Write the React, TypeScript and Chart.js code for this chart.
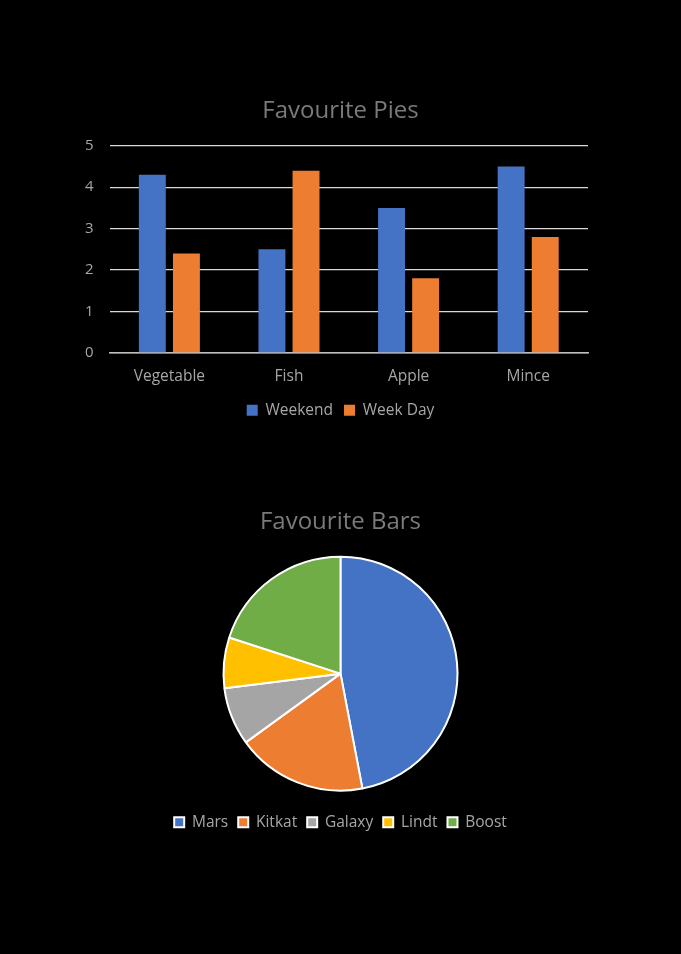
import { Chart, registerables } from "chart.js";
import { useEffect, useRef } from "react";

Chart.register(...registerables);

const pieCategories = ["Vegetable", "Fish", "Apple", "Mince"];
const weekend = [4.3, 2.5, 3.5, 4.5];
const weekDay = [2.4, 4.4, 1.8, 2.8];

const barLabels = ["Mars", "Kitkat", "Galaxy", "Lindt", "Boost"];
const barShares = [47, 18, 8, 7, 20];
const barColours = ["#4472C4", "#ED7D31", "#A5A5A5", "#FFC000", "#70AD47"];

const FONT = "'Open Sans', 'Noto Sans', sans-serif";
const TITLE_COLOUR = "#7a7a7a";
const TEXT_COLOUR = "#a6a6a6";

function PiesChart() {
	const ref = useRef<HTMLCanvasElement>(null);
	useEffect(() => {
		if (ref.current == null) {
			return;
		}
		const chart = new Chart(ref.current, {
			type: "bar",
			data: {
				labels: pieCategories,
				datasets: [
					{ label: "Weekend", data: weekend, backgroundColor: "#4472C4", borderWidth: 0 },
					{ label: "Week Day", data: weekDay, backgroundColor: "#ED7D31", borderWidth: 0 },
				],
			},
			options: {
				animation: false,
				responsive: false,
				categoryPercentage: 0.57,
				barPercentage: 0.79,
				// equal padding both sides keeps title and legend centred on the page
				layout: { padding: { left: 69, right: 69, top: 97, bottom: 12 } },
				plugins: {
					title: {
						display: true,
						text: "Favourite Pies",
						color: TITLE_COLOUR,
						font: { family: FONT, size: 24, weight: "normal" },
						padding: { top: 0, bottom: 20 },
					},
					legend: {
						position: "bottom",
						labels: {
							color: TEXT_COLOUR,
							font: { family: FONT, size: 15.5 },
							boxWidth: 11,
							boxHeight: 11,
							padding: 11,
						},
					},
					tooltip: { enabled: false },
				},
				scales: {
					x: {
						grid: { display: false },
						border: { color: "#bfbfbf", width: 1.5 },
						ticks: { color: TEXT_COLOUR, font: { family: FONT, size: 15.5 }, padding: 6 },
					},
					y: {
						min: 0,
						max: 5,
						grid: { color: "#d9d9d9", lineWidth: 1.2, drawTicks: false },
						border: { display: false },
						ticks: { stepSize: 1, color: TEXT_COLOUR, font: { family: FONT, size: 15 }, padding: 16 },
					},
					// empty spacer on the right so the plot sits where it does in the picture
					spacer: {
						type: "linear",
						position: "right",
						display: true,
						grid: { display: false },
						border: { display: false },
						ticks: { display: false },
						afterFit: (scale) => {
							scale.width = 24;
						},
					},
				},
			},
		});
		return () => {
			chart.destroy();
		};
	}, []);
	return <canvas ref={ref} width={681} height={440} style={{ position: "absolute", left: 0, top: 0 }} />;
}

function BarsChart() {
	const ref = useRef<HTMLCanvasElement>(null);
	useEffect(() => {
		if (ref.current == null) {
			return;
		}
		const chart = new Chart(ref.current, {
			type: "pie",
			data: {
				labels: barLabels,
				datasets: [
					{
						data: barShares,
						backgroundColor: barColours,
						borderColor: "#ffffff",
						borderWidth: 2,
					},
				],
			},
			options: {
				animation: false,
				responsive: false,
				radius: 117,
				layout: { padding: { top: 28, bottom: 20 } },
				plugins: {
					title: {
						display: true,
						text: "Favourite Bars",
						color: TITLE_COLOUR,
						font: { family: FONT, size: 24, weight: "normal" },
						padding: { top: 0, bottom: 6 },
					},
					legend: {
						position: "bottom",
						labels: {
							color: TEXT_COLOUR,
							font: { family: FONT, size: 15.5 },
							boxWidth: 10,
							boxHeight: 10,
							padding: 10,
						},
					},
					tooltip: { enabled: false },
				},
			},
		});
		return () => {
			chart.destroy();
		};
	}, []);
	return <canvas ref={ref} width={681} height={380} style={{ position: "absolute", left: 0, top: 480 }} />;
}

export default function App() {
	return (
		<div style={{ position: "fixed", inset: 0, width: 681, height: 954, background: "#000000", overflow: "hidden" }}>
			<PiesChart />
			<BarsChart />
		</div>
	);
}
